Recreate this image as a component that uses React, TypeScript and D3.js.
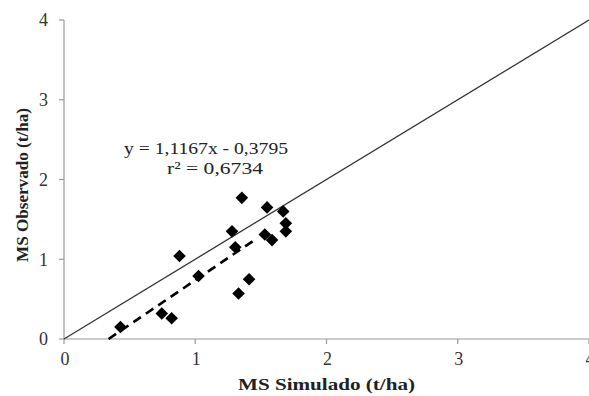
import React from 'react'
import * as d3 from 'd3'

// MS simulado (x) vs MS observado (y), t/ha
const simulado = [1.355, 1.547, 1.67, 1.28, 0.88, 1.305, 1.69, 1.69, 1.53, 1.585, 1.025, 1.41, 1.33, 0.745, 0.82, 0.43]
const observado = [1.77, 1.65, 1.6, 1.35, 1.04, 1.15, 1.45, 1.35, 1.31, 1.24, 0.79, 0.75, 0.57, 0.32, 0.26, 0.15]
const ticks = [0, 1, 2, 3, 4]
const slope = 1.1167
const intercept = -0.3795
const trendEnd = 1.44

const W = 589
const H = 396
const left = 64
const right = 589
const top = 20
const bottom = 339

const App = () => {
  const x = d3.scaleLinear().domain([0, 4]).range([left, right])
  const y = d3.scaleLinear().domain([0, 4]).range([bottom, top])

  const line = d3.line<[number, number]>()
    .x(d => x(d[0]))
    .y(d => y(d[1]))

  const trendStart = -intercept / slope
  const trend: [number, number][] = [[trendStart, 0], [trendEnd, slope * trendEnd + intercept]]
  const oneToOne: [number, number][] = [[0, 0], [4, 4]]

  const s = 6.3
  const diamond = `M0,${-s}L${s},0L0,${s}L${-s},0Z`
  const font = '"Liberation Serif", "Times New Roman", serif'

  return (
    <svg width={W} height={H} style={{ position: 'absolute', left: 0, top: 0, background: '#fff' }} fontFamily={font}>
      {/* axes */}
      <line x1={left} x2={left} y1={top} y2={bottom} stroke="#999" strokeWidth={1.2} />
      <line x1={left} x2={right} y1={bottom} y2={bottom} stroke="#999" strokeWidth={1.2} />
      {ticks.map(t => (
        <g key={'y' + t}>
          <line x1={left - 5} x2={left} y1={y(t)} y2={y(t)} stroke="#999" strokeWidth={1.2} />
          <text x={left - 16} y={y(t)} dy="0.35em" textAnchor="end" fontSize={18} fill="#333">{t}</text>
        </g>
      ))}
      {ticks.map(t => (
        <g key={'x' + t}>
          <line x1={x(t)} x2={x(t)} y1={bottom} y2={bottom + 5} stroke="#999" strokeWidth={1.2} />
          <text x={x(t) + 1} y={bottom + 26} textAnchor="middle" fontSize={18} fill="#333">{t}</text>
        </g>
      ))}

      {/* linha 1:1 */}
      <path d={line(oneToOne) || ''} fill="none" stroke="#333" strokeWidth={1.3} />
      {/* regressao */}
      <path d={line(trend) || ''} fill="none" stroke="#000" strokeWidth={2.6} strokeDasharray="9,6" />

      {simulado.map((v, i) => (
        <path key={i} d={diamond} transform={`translate(${x(v)},${y(observado[i])})`} fill="#000" />
      ))}

      <text x={124} y={154} fontSize={17} fill="#222" textLength={164} lengthAdjust="spacingAndGlyphs">y = 1,1167x - 0,3795</text>
      <text x={167} y={174} fontSize={17} fill="#222" textLength={96} lengthAdjust="spacingAndGlyphs">r² = 0,6734</text>

      <text x={238} y={390} fontSize={17} fontWeight="bold" fill="#222" textLength={177} lengthAdjust="spacingAndGlyphs">MS Simulado (t/ha)</text>
      <text transform={`translate(28,262) rotate(-90)`} fontSize={17} fontWeight="bold" fill="#222" textLength={154} lengthAdjust="spacingAndGlyphs">MS Observado (t/ha)</text>
    </svg>
  )
}

export default App
